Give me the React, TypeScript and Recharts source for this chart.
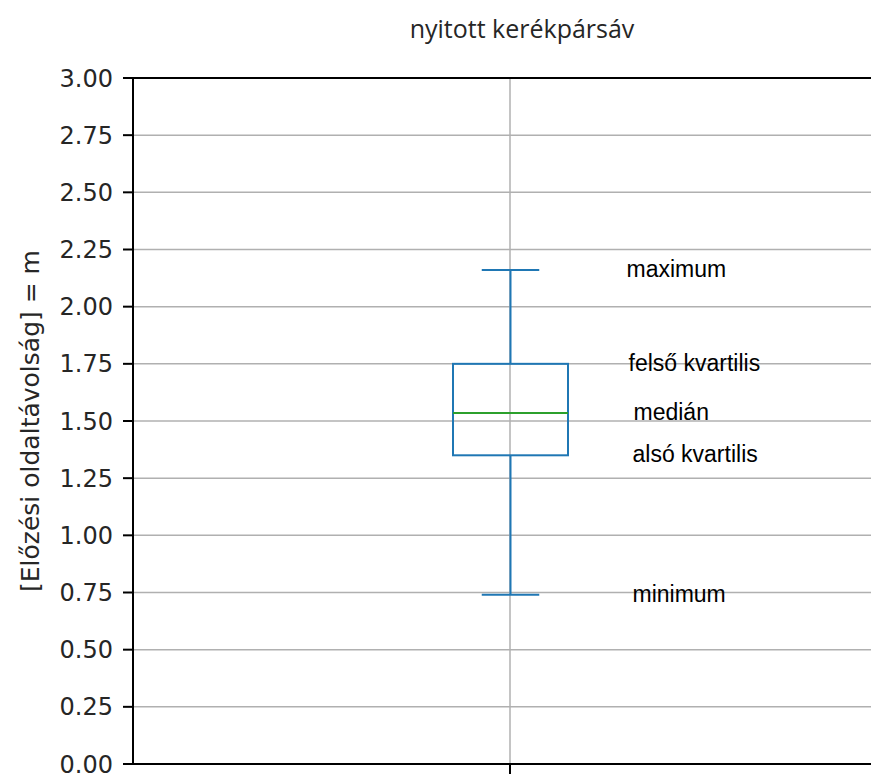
import React from 'react';
import { ComposedChart, Bar, XAxis, YAxis, CartesianGrid, ReferenceLine } from 'recharts';

const categories = ['nyitott kerékpársáv'];
const minimumValues = [0.74];
const lowerQuartiles = [1.35];
const medians = [1.535];
const upperQuartiles = [1.75];
const maximumValues = [2.16];
const yTicks = [0, 0.25, 0.5, 0.75, 1, 1.25, 1.5, 1.75, 2, 2.25, 2.5, 2.75, 3];
const statLabels = ['maximum', 'felső kvartilis', 'medián', 'alsó kvartilis', 'minimum'];
const titleText = 'nyitott kerékpársáv';
const yLabelText = '[Előzési oldaltávolság] = m';

const data = categories.map((name, i) => ({
  name,
  min: minimumValues[i],
  q1: lowerQuartiles[i],
  median: medians[i],
  q3: upperQuartiles[i],
  max: maximumValues[i],
  base: lowerQuartiles[i],
  box: upperQuartiles[i] - lowerQuartiles[i],
}));

const BLUE = '#1f77b4';
const GREEN = '#2ca02c';
const labelOffsets = [116, 118, 123, 122, 122];

const BoxShape = (props: any) => {
  const { x, y, width, height, payload } = props;
  const ppu = height / (payload.q3 - payload.q1);
  const yOf = (v: number) => y + height - (v - payload.q1) * ppu;
  const cx = x + width / 2;
  const halfCap = width / 4;
  const stats = [payload.max, payload.q3, payload.median, payload.q1, payload.min];
  return (
    <g>
      <line x1={cx} x2={cx} y1={yOf(payload.max)} y2={yOf(payload.q3)} stroke={BLUE} strokeWidth={2} />
      <line x1={cx} x2={cx} y1={yOf(payload.q1)} y2={yOf(payload.min)} stroke={BLUE} strokeWidth={2} />
      <line x1={cx - halfCap} x2={cx + halfCap} y1={yOf(payload.max)} y2={yOf(payload.max)} stroke={BLUE} strokeWidth={2} />
      <line x1={cx - halfCap} x2={cx + halfCap} y1={yOf(payload.min)} y2={yOf(payload.min)} stroke={BLUE} strokeWidth={2} />
      <rect x={x} y={y} width={width} height={height} fill="none" stroke={BLUE} strokeWidth={2} />
      <line x1={x} x2={x + width} y1={yOf(payload.median)} y2={yOf(payload.median)} stroke={GREEN} strokeWidth={2} />
      {stats.map((v, i) => (
        <text
          key={statLabels[i]}
          x={cx + labelOffsets[i]}
          y={yOf(v) + 7}
          fontFamily="'Liberation Sans', Arial, sans-serif"
          fontSize={23}
          fill="#000"
        >
          {statLabels[i]}
        </text>
      ))}
    </g>
  );
};

const YLabel = (props: any) => {
  const vb = props.viewBox;
  const cy = vb.y + vb.height / 2;
  const lx = 30;
  return (
    <text
      x={lx}
      y={cy}
      transform={`rotate(-90, ${lx}, ${cy})`}
      textAnchor="middle"
      dominantBaseline="central"
      fontFamily="'DejaVu Sans', sans-serif"
      fontSize={25}
      fill="#262626"
    >
      {yLabelText}
    </text>
  );
};

const EmptyTick = () => <g />;

export default function App() {
  return (
    <div style={{ position: 'absolute', left: 0, top: 0, width: 871, height: 776, overflow: 'hidden', background: '#fff' }}>
      <div
        style={{
          position: 'absolute',
          left: 522,
          top: 28,
          transform: 'translate(-50%, -50%)',
          whiteSpace: 'nowrap',
          fontFamily: "'Open Sans', sans-serif",
          fontSize: 25,
          color: '#262626',
          zIndex: 2,
        }}
      >
        {titleText}
      </div>
      <ComposedChart
        width={900}
        height={820}
        data={data}
        margin={{ top: 78, right: 13, bottom: 26, left: 0 }}
      >
        <CartesianGrid stroke="#b0b0b0" strokeWidth={1.5} />
        <XAxis
          dataKey="name"
          height={30}
          tickSize={10}
          tickMargin={8}
          axisLine={{ stroke: '#000', strokeWidth: 2 }}
          tickLine={{ stroke: '#000', strokeWidth: 2 }}
          tick={<EmptyTick />}
        />
        <YAxis
          width={133}
          domain={[0, 3]}
          ticks={yTicks}
          interval={0}
          tickFormatter={(v: number) => v.toFixed(2)}
          tickSize={10}
          tickMargin={10}
          axisLine={{ stroke: '#000', strokeWidth: 2 }}
          tickLine={{ stroke: '#000', strokeWidth: 2 }}
          tick={{ fontFamily: "'DejaVu Sans', sans-serif", fontSize: 24, fill: '#262626' }}
          label={<YLabel />}
        />
        <ReferenceLine y={3} stroke="#000" strokeWidth={2} />
        <Bar dataKey="base" stackId="b" fill="transparent" isAnimationActive={false} barSize={115} />
        <Bar dataKey="box" stackId="b" shape={<BoxShape />} isAnimationActive={false} barSize={115} />
      </ComposedChart>
    </div>
  );
}
